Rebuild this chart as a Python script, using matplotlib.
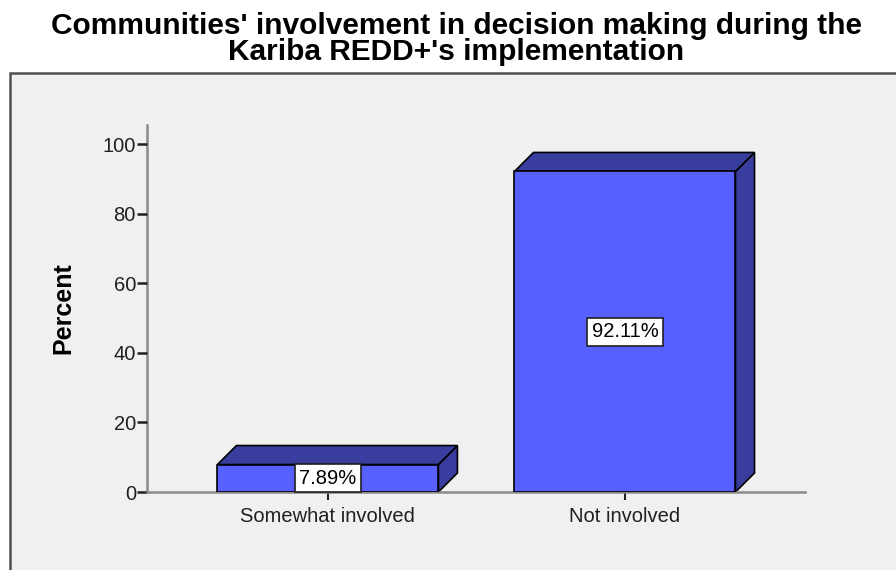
import matplotlib
matplotlib.use("Agg")
import matplotlib.pyplot as plt
from matplotlib.patches import Rectangle

plt.rcParams['font.family'] = ['Liberation Sans', 'DejaVu Sans']

categories = ['Somewhat involved', 'Not involved']
percents = [7.89, 92.11]
labels = ['7.89%', '92.11%']
yticks = [0, 20, 40, 60, 80, 100]

W, H = 896, 570
fig = plt.figure(figsize=(W / 100, H / 100), dpi=100)
fig.patch.set_facecolor('white')

# grey chart panel with dark frame
panel = Rectangle((10 / W, -0.05), 1.0, 1.05 - 73 / H, transform=fig.transFigure,
                  facecolor='#f0f0f0', edgecolor='#505050', lw=1.8, clip_on=False, zorder=-10)
fig.patches.append(panel)

fig.text(456 / W, 1 - 39 / H, "Communities' involvement in decision making during the\nKariba REDD+'s implementation",
         ha='center', va='center', fontsize=21.5, fontweight='bold', linespacing=0.9)

left, right, bottom, top = 147, 805, 492, 125
ax = fig.add_axes([left / W, 1 - bottom / H, (right - left) / W, (bottom - top) / H])
ax.set_facecolor('none')

xs = [0, 1]
bw = 0.744
ax.set_xlim(-0.609, 1.606)
ax.set_ylim(0, 105.46)
dx = 19 / 297
dy = 19 / 3.48

front = '#5860ff'
dark = '#393d9e'
for x, v, lab in zip(xs, percents, labels):
    x0, x1 = x - bw / 2, x + bw / 2
    ax.fill([x1, x1 + dx, x1 + dx, x1], [0, dy, v + dy, v], color=dark, ec='black', lw=1.2, zorder=2, clip_on=False)
    ax.fill([x0, x0 + dx, x1 + dx, x1], [v, v + dy, v + dy, v], color=dark, ec='black', lw=1.2, zorder=2, clip_on=False)
    ax.bar(x, v, width=bw, color=front, edgecolor='black', lw=1.2, zorder=3)
    ax.text(x, v / 2, lab, ha='center', va='center', fontsize=14.5, zorder=4,
            bbox=dict(boxstyle='square,pad=0.22', fc='white', ec='#202020', lw=1.2))

for s in ['top', 'right']:
    ax.spines[s].set_visible(False)
for s in ['left', 'bottom']:
    ax.spines[s].set_color('#8a8a8a')
    ax.spines[s].set_linewidth(1.8)
ax.spines['left'].set_zorder(1)

ax.set_yticks(yticks)
ax.set_xticks(xs)
ax.set_xticklabels(categories, fontsize=14.5, color='#202020')
ax.tick_params(axis='y', length=7, width=1.8, color='#202020', labelsize=14.5, labelcolor='#202020', pad=1)
ax.tick_params(axis='x', length=6, width=1.5, color='#202020', pad=5)
ax.set_ylabel('Percent', fontsize=18, fontweight='bold')
ax.yaxis.set_label_coords((75 - left) / (right - left), 0.5)

fig.savefig('out.png', dpi=100, facecolor=fig.get_facecolor())
